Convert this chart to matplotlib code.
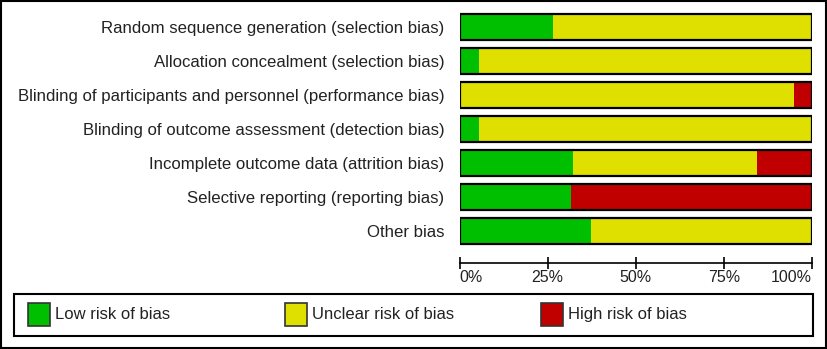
import matplotlib
matplotlib.use("Agg")
import matplotlib.pyplot as plt
from matplotlib.patches import Rectangle

plt.rcParams['font.family'] = ['Liberation Sans', 'DejaVu Sans']

domains = [
    "Random sequence generation (selection bias)",
    "Allocation concealment (selection bias)",
    "Blinding of participants and personnel (performance bias)",
    "Blinding of outcome assessment (detection bias)",
    "Incomplete outcome data (attrition bias)",
    "Selective reporting (reporting bias)",
    "Other bias",
]
low = [26.5, 5.5, 0.0, 5.5, 32.2, 31.7, 37.3]
unclear = [73.5, 94.5, 94.9, 94.5, 52.1, 0.0, 62.7]
high = [0.0, 0.0, 5.1, 0.0, 15.7, 68.3, 0.0]
tick_vals = [0, 25, 50, 75, 100]
tick_labels = ["0%", "25%", "50%", "75%", "100%"]
legend_labels = ["Low risk of bias", "Unclear risk of bias", "High risk of bias"]
colors = ["#00BF00", "#E0E000", "#C00000"]

W, H = 827, 349
fig = plt.figure(figsize=(W / 100, H / 100), dpi=100)

def fx(px):
    return px / W

def fy(py):
    return 1 - py / H

# outer border
fig.add_artist(Rectangle((fx(1), fy(347.5)), fx(824.5), 346.5 / H, transform=fig.transFigure,
                         fill=False, edgecolor="black", linewidth=1.5))

ax = fig.add_axes([fx(459.5), fy(248), fx(812) - fx(459.5), (248 - 10) / H])

ypos = list(range(len(domains)))
h = 0.76
lefts = [0.0] * len(domains)
for vals, c in zip([low, unclear, high], colors):
    ax.barh(ypos, vals, left=lefts, height=h, color=c, edgecolor="none", linewidth=0)
    lefts = [a + b for a, b in zip(lefts, vals)]
totals = [a + b + c for a, b, c in zip(low, unclear, high)]
ax.barh(ypos, totals, height=h, fill=False, edgecolor="black", linewidth=1.6)

ax.set_xlim(0, 100)
ax.set_ylim(len(domains) - 0.5, -0.5)
ax.set_yticks(ypos)
ax.set_yticklabels(domains, fontsize=12.1, color="#222222")
ax.tick_params(axis="y", length=0, pad=11)
for s in ["top", "right", "left"]:
    ax.spines[s].set_visible(False)
ax.spines["bottom"].set_position(("outward", 11))
ax.spines["bottom"].set_linewidth(1.2)
ax.set_xticks(tick_vals)
ax.set_xticklabels(tick_labels, fontsize=11.5, color="#222222")
ax.tick_params(axis="x", direction="inout", length=8.6, width=1.2, pad=0.5)
xl = ax.get_xticklabels()
xl[0].set_ha("left")
xl[-1].set_ha("right")

# legend box
fig.add_artist(Rectangle((fx(14), fy(336)), fx(813) - fx(14), (336 - 293.5) / H,
                         transform=fig.transFigure, fill=False, edgecolor="black", linewidth=1.5))
patch_x = [28, 284.5, 541]
for px, c, lab in zip(patch_x, colors, legend_labels):
    fig.add_artist(Rectangle((fx(px), fy(325.5)), 22 / W, 23 / H, transform=fig.transFigure,
                             facecolor=c, edgecolor="#333333", linewidth=1.2))
    fig.text(fx(px + 27), fy(314.5), lab, fontsize=12, color="#222222", ha="left", va="center")

fig.savefig("out.png", dpi=100)
